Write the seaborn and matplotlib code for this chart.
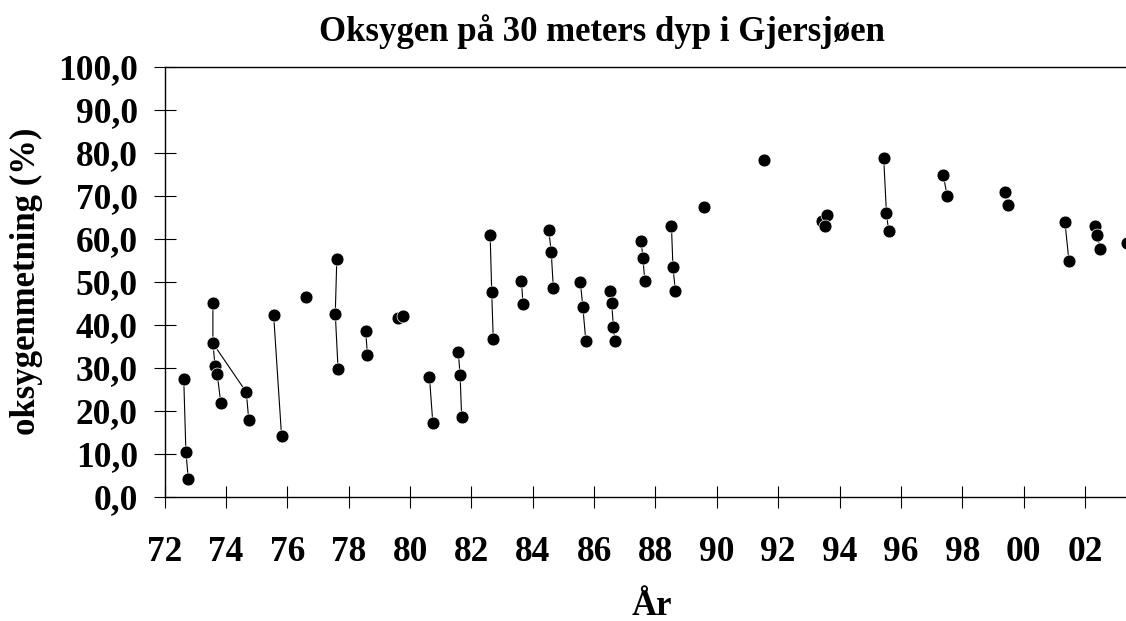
import pandas as pd
import matplotlib
matplotlib.use("Agg")
import matplotlib.pyplot as plt
import seaborn as sns

# oxygen saturation at 30 m depth, Gjersjøen (year as 72..103)
years = [72.62, 72.69, 72.77,
         73.57, 73.57, 73.64, 73.71, 73.83,
         73.57, 74.66, 74.74,
         75.55, 75.81,
         76.61,
         77.61, 77.56, 77.65,
         78.55, 78.61,
         79.62, 79.77,
         80.63, 80.74,
         81.57, 81.63, 81.68,
         82.61, 82.66, 82.71,
         83.63, 83.68,
         84.52, 84.60, 84.67,
         85.55, 85.63, 85.73,
         86.52, 86.57, 86.63, 86.68,
         87.53, 87.59, 87.65,
         88.52, 88.57, 88.65,
         89.58,
         91.53,
         93.42, 93.58, 93.52,
         95.44, 95.53, 95.60,
         97.38, 97.51,
         99.41, 99.49,
         101.35, 101.48,
         102.33, 102.41, 102.49,
         103.36]
oxygen = [27.4, 10.4, 4.0,
          45.1, 35.7, 30.4, 28.5, 21.7,
          35.7, 24.3, 17.8,
          42.3, 14.0,
          46.5,
          55.2, 42.6, 29.8,
          38.5, 33.0,
          41.6, 42.0,
          27.9, 17.2,
          33.7, 28.3, 18.5,
          60.8, 47.7, 36.7,
          50.2, 44.7,
          62.0, 57.0, 48.5,
          50.0, 44.2, 36.1,
          47.9, 45.1, 39.4, 36.1,
          59.5, 55.6, 50.2,
          63.0, 53.3, 47.8,
          67.3,
          78.3,
          64.0, 65.5, 63.0,
          78.8, 65.9, 61.9,
          74.9, 69.9,
          70.9, 67.8,
          63.8, 54.8,
          63.0, 60.9, 57.6,
          58.9]
# which points are joined by a line
group = [1, 1, 1,
         2, 2, 2, 2, 2,
         3, 3, 3,
         4, 4,
         5,
         6, 6, 6,
         7, 7,
         8, 8,
         9, 9,
         10, 10, 10,
         11, 11, 11,
         12, 12,
         13, 13, 13,
         14, 14, 14,
         15, 15, 15, 15,
         16, 16, 16,
         17, 17, 17,
         18,
         19,
         20, 20, 20,
         21, 21, 21,
         22, 22,
         23, 23,
         24, 24,
         25, 25, 25,
         26]

x_ticks = list(range(72, 103, 2))
x_labels = ["72", "74", "76", "78", "80", "82", "84", "86", "88", "90",
            "92", "94", "96", "98", "00", "02"]
y_ticks = list(range(0, 101, 10))
y_labels = [f"{v:.1f}".replace(".", ",") for v in y_ticks]

df = pd.DataFrame({"year": years, "oxygen": oxygen, "group": group})

sns.set_theme(style="white", rc={"text.color": "black",
                                 "axes.labelcolor": "black",
                                 "xtick.color": "black",
                                 "ytick.color": "black",
                                 "xtick.bottom": True,
                                 "ytick.left": True})
plt.rcParams["font.family"] = ["Liberation Serif", "DejaVu Serif"]
plt.rcParams["font.weight"] = "bold"

fig = plt.figure(figsize=(11.26, 6.21), dpi=100)
ax = fig.add_axes([0.1463, 0.2002, 0.8537, 0.6924])

sns.lineplot(data=df, x="year", y="oxygen", units="group", estimator=None,
             sort=False, color="black", linewidth=0.8, ax=ax)
sns.scatterplot(data=df, x="year", y="oxygen", color="black", s=86,
                edgecolor="white", linewidth=0.5, ax=ax, zorder=3)

ax.set_xlim(72, 103.34)
ax.set_ylim(0, 100)
ax.set_xticks(x_ticks)
ax.set_xticklabels(x_labels)
ax.set_yticks(y_ticks)
ax.set_yticklabels(y_labels)
ax.set_xlabel("")
ax.set_ylabel("")

for side in ["left", "bottom", "top"]:
    ax.spines[side].set_visible(True)
    ax.spines[side].set_color("black")
    ax.spines[side].set_linewidth(1.0)
ax.spines["right"].set_visible(False)

ax.tick_params(axis="x", which="major", bottom=True, direction="inout",
               length=15.6, width=0.8, color="black", labelcolor="black",
               pad=20.5, labelsize=25.5)
ax.tick_params(axis="y", which="major", left=True, direction="inout",
               length=15.6, width=0.8, color="black", labelcolor="black",
               pad=11.5, labelsize=25.5)
for lab in ax.get_xticklabels() + ax.get_yticklabels():
    lab.set_fontweight("bold")

fig.text(602 / 1126, 1 - 41 / 621, "Oksygen på 30 meters dyp i Gjersjøen",
         ha="center", va="baseline", fontsize=25, fontweight="bold",
         color="black")
fig.text(652 / 1126, 1 - 615 / 621, "År", ha="center", va="baseline",
         fontsize=25, fontweight="bold", color="black")
fig.text(26 / 1126, 1 - 281.5 / 621, "oksygenmetning (%)", rotation=90,
         ha="center", va="center", fontsize=25, fontweight="bold",
         color="black")

fig.savefig("out.png", dpi=100)
